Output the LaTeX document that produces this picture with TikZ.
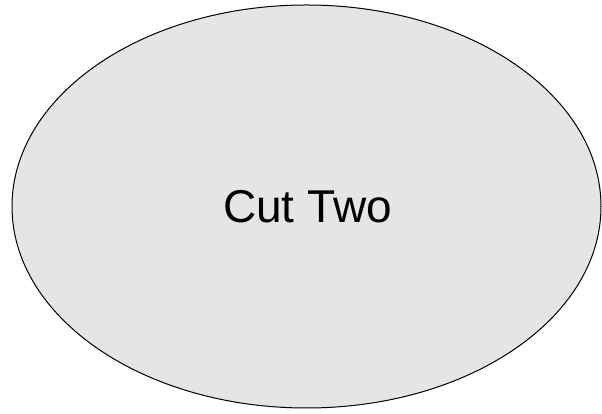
\documentclass[tikz,border=0pt]{standalone}
\usepackage{fontspec}
\setmainfont{Liberation Sans}
\usetikzlibrary{shapes.geometric}
\definecolor{cutfill}{HTML}{E5E5E5}
\tikzset{cutshape/.style={ellipse, draw=black, line width=1pt, fill=cutfill, minimum width=589pt, minimum height=403pt, inner sep=0pt, font=\fontsize{46}{50}\selectfont}}
\begin{document}
\begin{tikzpicture}[x=1pt,y=1pt]
\useasboundingbox (0,0) rectangle (602,414);
\node[cutshape] (cut) at (306.5,207.5) {};
\node[anchor=center, font=\fontsize{46}{50}\selectfont, inner sep=0pt] (lbl) at (307.5,207) {\vphantom{C}Cut Two};
\end{tikzpicture}
\end{document}
